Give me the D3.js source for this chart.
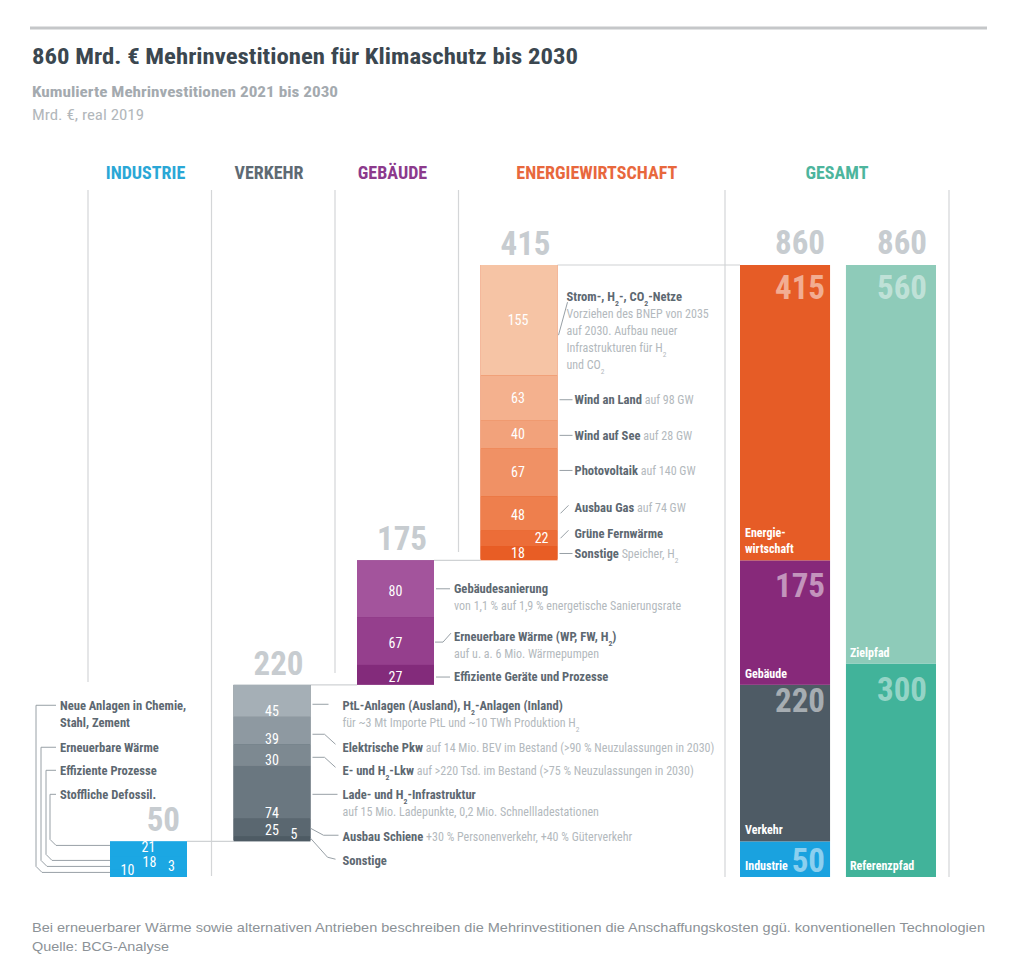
<!DOCTYPE html>
<html><head><meta charset="utf-8">
<script src="https://cdn.jsdelivr.net/npm/d3@7"></script>
<style>
body{margin:0;background:#fff;}
svg{display:block;}
text{font-family:"Liberation Sans Narrow","Roboto Condensed","DejaVu Sans Condensed","Arial Narrow",sans-serif;}
text.foot{font-family:"Liberation Sans","Arial",sans-serif;}
</style></head><body>
<svg id="chart" width="1024" height="974"></svg>
<script>
// ---------------- DATA ----------------
const titleText = "860 Mrd. € Mehrinvestitionen für Klimaschutz bis 2030";
const subtitleText = "Kumulierte Mehrinvestitionen 2021 bis 2030";
const unitText = "Mrd. €, real 2019";
const footnoteLines = ["Bei erneuerbarer Wärme sowie alternativen Antrieben beschreiben die Mehrinvestitionen die Anschaffungskosten ggü. konventionellen Technologien","Quelle: BCG-Analyse"];

const sectorKeys = ["Industrie","Verkehr","Gebäude","Energiewirtschaft"];
const headerLabels = ["INDUSTRIE","VERKEHR","GEBÄUDE","ENERGIEWIRTSCHAFT","GESAMT"];
const sectorTotals = [50, 220, 175, 415];
const grandTotal = 860;

const industrieValues = [21, 18, 10, 3];
const verkehrValues = [45, 39, 30, 74, 25, 5];
const gebaeudeValues = [80, 67, 27];
const energieValues = [155, 63, 40, 67, 48, 22, 18];

const gesamtSegmentLabels = [["Industrie"],["Verkehr"],["Gebäude"],["Energie-","wirtschaft"]];
const pathKeys = ["Referenzpfad","Zielpfad"];
const pathValues = [300, 560];

const industrieNotes = [["Neue Anlagen in Chemie,","Stahl, Zement"],["Erneuerbare Wärme"],["Effiziente Prozesse"],["Stoffliche Defossil."]];

const verkehrTitles = ["PtL-Anlagen (Ausland), H_2-Anlagen (Inland)","Elektrische Pkw","E- und H_2-Lkw","Lade- und H_2-Infrastruktur","Ausbau Schiene","Sonstige"];
const verkehrInline = ["","auf 14 Mio. BEV im Bestand (>90 % Neuzulassungen in 2030)","auf >220 Tsd. im Bestand (>75 % Neuzulassungen in 2030)","","+30 % Personenverkehr, +40 % Güterverkehr",""];
const verkehrDesc = [["für ~3 Mt Importe PtL und ~10 TWh Produktion H_2"],[],[],["auf 15 Mio. Ladepunkte, 0,2 Mio. Schnellladestationen"],[],[]];

const gebaeudeTitles = ["Gebäudesanierung","Erneuerbare Wärme (WP, FW, H_2)","Effiziente Geräte und Prozesse"];
const gebaeudeInline = ["","",""];
const gebaeudeDesc = [["von 1,1 % auf 1,9 % energetische Sanierungsrate"],["auf u. a. 6 Mio. Wärmepumpen"],[]];

const energieTitles = ["Strom-, H_2-, CO_2-Netze","Wind an Land","Wind auf See","Photovoltaik","Ausbau Gas","Grüne Fernwärme","Sonstige"];
const energieInline = ["","auf 98 GW","auf 28 GW","auf 140 GW","auf 74 GW","","Speicher, H_2"];
const energieDesc = [["Vorziehen des BNEP von 2035","auf 2030. Aufbau neuer","Infrastrukturen für H_2","und CO_2"],[],[],[],[],[],[]];

// ---------------- STYLE / LAYOUT ----------------
const C = {title:"#3b4750", sub:"#a4aaaf", unit:"#b2b7bb", note:"#5d6871", light:"#b3b9bd",
  total:"#c7ccd0", sep:"#d4d6d8", conn:"#98a0a6", link:"#cfd2d4", foot:"#8c9297"};
const headerColors = ["#2aa7d6","#5e6a73","#8c3a8c","#e8683d","#4db59d"];
const industrieColors = ["#1ba7e3","#1ba7e3","#1ba7e3","#1ba7e3"];
const verkehrColors = ["#a5afb6","#8e99a1","#7d8991","#6a7780","#5a6770","#4e5b64"];
const gebaeudeColors = ["#a3549c","#953f8d","#832b7b"];
const energieColors = ["#f6c4a5","#f4b18e","#f2a27b","#f09165","#ee7f4d","#ec6d38","#e85d25"];
const gesamtColors = ["#1aa2df","#4e5b65","#87297a","#e65c26"];
const pathColors = ["#41b39a","#8ecbb9"];
const BIG = 33, NOTE_B = 12.6, NOTE_L = 12;

const svg = d3.select("#chart");
const y = d3.scaleLinear().domain([0, grandTotal]).range([877, 265]);
const xCol = d3.scaleBand().domain(sectorKeys).range([88, 88 + 123.5*4]);
const BAR_OFF = 22, BAR_W = 77;
const xG = d3.scaleBand().domain(["Sektoren","Pfade"]).range([740, 936]).paddingInner(0.15);

const bases = sectorTotals.map((v,i)=> d3.sum(sectorTotals.slice(0,i)));

function addParts(t, str, bold, fill){
  const parts = str.split(/_(\d)/);
  parts.forEach((p,i)=>{
    if(!p) return;
    const ts = t.append("tspan").text(p).attr("font-weight", bold ? "bold":"normal").attr("fill", fill)
      .attr("font-size", bold ? NOTE_B : NOTE_L);
    if(i%2===1) ts.attr("font-size",(bold ? NOTE_B : NOTE_L)*0.62).attr("baseline-shift","sub");
  });
}
function noteText(g, x, yc, title, inline, desc){
  const t = g.append("text").attr("x",x).attr("y",yc).attr("dy","0.36em").attr("font-size",12);
  addParts(t, title, true, C.note);
  if(inline) addParts(t, " " + inline, false, C.light);
  desc.forEach((d,i)=>{
    const tt = g.append("text").attr("x",x).attr("y",yc + 17*(i+1)).attr("dy","0.36em").attr("font-size",12);
    addParts(tt, d, false, C.light);
  });
}
const line = d3.line();
function conn(g, pts){
  g.append("path").attr("d", line(pts)).attr("fill","none").attr("stroke",C.conn).attr("stroke-width",1);
}

// ---------------- HEADER ----------------
svg.append("line").attr("x1",30).attr("x2",987).attr("y1",28).attr("y2",28).attr("stroke","#c5c7c9").attr("stroke-width",3);
svg.append("text").attr("x",32).attr("y",64).attr("font-size",22).attr("font-weight","bold").attr("fill",C.title)
  .attr("textLength",546).attr("lengthAdjust","spacingAndGlyphs").text(titleText);
svg.append("text").attr("x",32).attr("y",97).attr("font-size",15).attr("font-weight","bold").attr("fill",C.sub)
  .attr("textLength",306).attr("lengthAdjust","spacingAndGlyphs").text(subtitleText);
svg.append("text").attr("x",32).attr("y",120).attr("font-size",15).attr("fill",C.unit)
  .attr("textLength",112).attr("lengthAdjust","spacingAndGlyphs").text(unitText);

// column separators
const sepX = [xCol("Industrie"), xCol("Verkehr"), xCol("Gebäude"), xCol("Energiewirtschaft"), 725, 949];
const sepEnd = [682, 876, 673, 552, 877, 877];
svg.append("g").selectAll("line").data(sepX).join("line")
  .attr("x1",d=>d).attr("x2",d=>d).attr("y1",190).attr("y2",(d,i)=>sepEnd[i])
  .attr("stroke",C.sep).attr("stroke-width",1.2);

// column headers
const headerX = [xCol("Industrie")+BAR_OFF+BAR_W/2-3, xCol("Verkehr")+BAR_OFF+BAR_W/2-3, xCol("Gebäude")+BAR_OFF+BAR_W/2-3,
  (xCol("Energiewirtschaft")+725)/2+5, (725+949)/2];
svg.append("g").selectAll("text").data(headerLabels).join("text")
  .attr("x",(d,i)=>headerX[i]).attr("y",178.5).attr("text-anchor","middle")
  .attr("font-size",18).attr("font-weight","bold").attr("fill",(d,i)=>headerColors[i]).text(d=>d);

// ---------------- WATERFALL LINKS ----------------
const gl = svg.append("g");
gl.append("line").attr("x1",xCol("Energiewirtschaft")+BAR_OFF+BAR_W).attr("x2",xG("Sektoren"))
  .attr("y1",y(grandTotal)).attr("y2",y(grandTotal)).attr("stroke",C.link).attr("stroke-width",1.2);
for(let i=0;i<3;i++){
  const yy = y(bases[i+1]);
  gl.append("line").attr("x1",xCol(sectorKeys[i])+BAR_OFF+BAR_W).attr("x2",xCol(sectorKeys[i+1])+BAR_OFF)
    .attr("y1",yy).attr("y2",yy).attr("stroke",C.link).attr("stroke-width",1.2);
}

// ---------------- SECTOR BARS ----------------
function drawSector(i, values, colors){
  const k = sectorKeys[i];
  const x0 = xCol(k) + BAR_OFF;
  const base = bases[i], top = base + sectorTotals[i];
  const g = svg.append("g");
  g.append("rect").attr("x",x0).attr("y",y(top)).attr("width",BAR_W).attr("height",y(base)-y(top)).attr("fill",colors[colors.length-1]);
  let acc = top;
  const segs = values.map((v,j)=>{ const s = {v, j, y0: acc, y1: Math.max(base, acc - v)}; acc -= v; return s; });
  g.selectAll("rect.seg").data(segs).join("rect").attr("class","seg")
    .attr("x",x0).attr("width",BAR_W).attr("y",d=>y(d.y0)).attr("height",d=>y(d.y1)-y(d.y0)).attr("fill",d=>colors[d.j]);
  g.append("text").attr("x",x0+BAR_W-7).attr("y",y(top)-10).attr("text-anchor","end")
    .attr("font-size",BIG).attr("font-weight","bold").attr("fill",C.total).text(sectorTotals[i]);
  return {g, x0, x1:x0+BAR_W, xc:x0+BAR_W/2, segs, top, base};
}

// Industrie
const ind = drawSector(0, industrieValues, industrieColors);
const indPos = [[0,6],[1,21],[-21,29],[23,25]];
ind.g.selectAll("text.val").data(ind.segs).join("text").attr("class","val")
  .attr("x",d=>ind.xc+indPos[d.j][0]).attr("y",d=>y(ind.top)+indPos[d.j][1]).attr("dy","0.36em")
  .attr("text-anchor","middle").attr("font-size",14).attr("fill","#fff").text(d=>d.v);

// Verkehr
const vk = drawSector(1, verkehrValues, verkehrColors);
vk.g.selectAll("text.val").data(vk.segs).join("text").attr("class","val")
  .attr("x",d=> d.j===5 ? vk.xc+22 : vk.xc).attr("y",d=>y(d.y1)-6).attr("dy","0.36em")
  .attr("text-anchor","middle").attr("font-size",14).attr("fill","#fff").text(d=>d.v);
const vkTitleOff = [4.4, 16.5, 15, 2, 8.7, 22];
const vkConn = [[[2,-1],[18,-1]], [[2,-13],[14,-13],[25,-3]], [[2,-13],[14,-13],[25,-3]], [[2,0],[27,0]], [[0,-8],[13,-1],[28,-1]], [[0,-22],[17,-3],[25,-1]]];
const vkTitleY = vk.segs.map(d=> (y(d.y0)+y(d.y1))/2 + vkTitleOff[d.j]);
vk.segs.forEach(d=>{
  const ty = vkTitleY[d.j];
  conn(vk.g, vkConn[d.j].map(p=>[vk.x1+p[0], ty+p[1]]));
  noteText(vk.g, vk.x1+32, ty, verkehrTitles[d.j], verkehrInline[d.j], verkehrDesc[d.j]);
});

// Industrie notes (aligned with Verkehr rows)
(function(){
  const g = ind.g;
  const colX = xCol("Industrie");
  const vx = [-52,-47,-42,-38].map(d=>colX+d);
  const endOff = [31, 25, 19, 4];
  industrieNotes.forEach((lines,i)=>{
    const ty = vkTitleY[i];
    const ey = y(ind.top) + endOff[i];
    conn(g, [[colX-32, ty],[vx[i], ty],[vx[i], ey-6],[vx[i]+6, ey],[ind.x0, ey]]);
    lines.forEach((l,k)=>{
      g.append("text").attr("x",colX-28).attr("y",ty+17*k).attr("dy","0.36em").attr("font-size",NOTE_B)
        .attr("font-weight","bold").attr("fill",C.note).text(l);
    });
  });
})();

// Gebäude
const gb = drawSector(2, gebaeudeValues, gebaeudeColors);
gb.g.selectAll("text.val").data(gb.segs).join("text").attr("class","val")
  .attr("x",gb.xc).attr("y",d=>(y(d.y0)+y(d.y1))/2+2).attr("dy","0.36em")
  .attr("text-anchor","middle").attr("font-size",14).attr("fill","#fff").text(d=>d.v);
const gbTitleOff = [0, -4, 2.5];
const gbConn = [[[2,0],[16,0]], [[1,5],[9,5],[17,-4]], [[2,0],[16,0]]];
gb.segs.forEach(d=>{
  const ty = (y(d.y0)+y(d.y1))/2 + gbTitleOff[d.j];
  conn(gb.g, gbConn[d.j].map(p=>[gb.x1+p[0], ty+p[1]]));
  noteText(gb.g, gb.x1+20, ty, gebaeudeTitles[d.j], gebaeudeInline[d.j], gebaeudeDesc[d.j]);
});

// Energiewirtschaft
const ew = drawSector(3, energieValues, energieColors);
ew.g.selectAll("text.val").data(ew.segs).join("text").attr("class","val")
  .attr("x",d=> d.j===5 ? ew.x1-9 : ew.xc-1).attr("y",d=>(y(d.y0)+y(d.y1))/2 + (d.j===4?2:0)).attr("dy","0.36em")
  .attr("text-anchor",d=> d.j===5 ? "end":"middle").attr("font-size",14).attr("fill","#fff").text(d=>d.v);
const ewTitleOff = [-23, 2, 1, -2, -6, -5, 1];
const ewTextX = [9,17,17,17,17,17,17];
const ewConn = [[[1,38],[10,5]], [[2,0],[15,0]], [[2,0],[15,0]], [[2,0],[15,0]], [[3,6],[11,-2]], [[3,5],[11,-3]], [[2,0],[15,0]]];
ew.segs.forEach(d=>{
  const ty = (y(d.y0)+y(d.y1))/2 + ewTitleOff[d.j];
  conn(ew.g, ewConn[d.j].map(p=>[ew.x1+p[0], ty+p[1]]));
  noteText(ew.g, ew.x1+ewTextX[d.j], ty, energieTitles[d.j], energieInline[d.j], energieDesc[d.j]);
});

// ---------------- GESAMT ----------------
const gg = svg.append("g");
const gx0 = xG("Sektoren"), gx1 = xG("Pfade"), gw = xG.bandwidth();
[gx0, gx1].forEach((x,i)=>{
  gg.append("text").attr("x",x+gw-(i?9:5)).attr("y",y(grandTotal)-11).attr("text-anchor","end")
    .attr("font-size",BIG).attr("font-weight","bold").attr("fill",C.total).text(grandTotal);
});
const gSegs = sectorTotals.map((v,i)=>({v, i, b: bases[i], t: bases[i]+v}));
gg.selectAll("rect.gs").data(gSegs).join("rect").attr("class","gs")
  .attr("x",gx0).attr("width",gw).attr("y",d=>y(d.t)).attr("height",d=>y(d.b)-y(d.t)).attr("fill",d=>gesamtColors[d.i]);
const gValDy = [null, 27, 37, 34];
gg.selectAll("text.gv").data(gSegs).join("text").attr("class","gv")
  .attr("x",gx0+gw-5).attr("y",d=> d.i===0 ? y(d.b)-5 : y(d.t)+gValDy[d.i]).attr("text-anchor","end")
  .attr("font-size",BIG).attr("font-weight","bold").attr("fill","#fff").attr("fill-opacity",0.5).text(d=>d.v);
gSegs.forEach(d=>{
  const lines = gesamtSegmentLabels[d.i];
  lines.forEach((l,k)=>{
    gg.append("text").attr("x",gx0+5).attr("y",y(d.b)-7-(lines.length-1-k)*16)
      .attr("font-size",12).attr("font-weight","bold").attr("fill","#fff").text(l);
  });
});
const pSegs = pathValues.map((v,i)=>({v, i, b: d3.sum(pathValues.slice(0,i)), t: d3.sum(pathValues.slice(0,i+1))}));
gg.selectAll("rect.ps").data(pSegs).join("rect").attr("class","ps")
  .attr("x",gx1).attr("width",gw).attr("y",d=>y(d.t)).attr("height",d=>y(d.b)-y(d.t)).attr("fill",d=>pathColors[d.i]);
gg.selectAll("text.pv").data(pSegs).join("text").attr("class","pv")
  .attr("x",gx1+gw-9).attr("y",d=>y(d.t)+(d.i===0?37:34)).attr("text-anchor","end")
  .attr("font-size",BIG).attr("font-weight","bold").attr("fill","#fff").attr("fill-opacity",0.45).text(d=>d.v);
gg.selectAll("text.pl").data(pSegs).join("text").attr("class","pl")
  .attr("x",gx1+4).attr("y",d=>y(d.b)-7)
  .attr("font-size",12).attr("font-weight","bold").attr("fill","#fff").text(d=>pathKeys[d.i]);

// ---------------- FOOTER ----------------
const footLen = [953, 137];
svg.append("g").selectAll("text").data(footnoteLines).join("text").attr("class","foot")
  .attr("x",32).attr("y",(d,i)=>932+i*19).attr("font-size",13.5).attr("fill",C.foot)
  .attr("textLength",(d,i)=>footLen[i]).attr("lengthAdjust","spacingAndGlyphs").text(d=>d);
</script>
</body></html>
